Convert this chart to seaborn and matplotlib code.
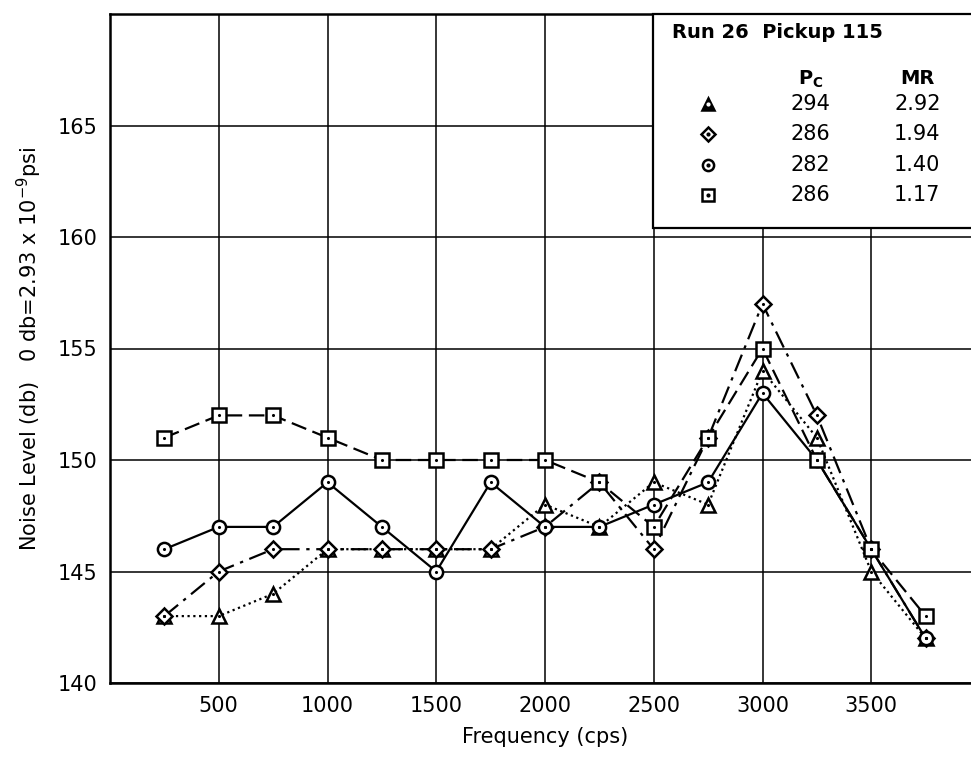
import matplotlib
matplotlib.use('Agg')
import matplotlib.pyplot as plt
import seaborn as sns
from matplotlib.patches import Rectangle

# Run 26, Pickup 115 - noise level vs frequency
freq = [250, 500, 750, 1000, 1250, 1500, 1750, 2000, 2250, 2500, 2750, 3000, 3250, 3500, 3750]
db_tri = [143, 143, 144, 146, 146, 146, 146, 148, 147, 149, 148, 154, 151, 145, 142]
db_dia = [143, 145, 146, 146, 146, 146, 146, 147, 149, 146, 151, 157, 152, 146, 142]
db_cir = [146, 147, 147, 149, 147, 145, 149, 147, 147, 148, 149, 153, 150, 146, 142]
db_sq = [151, 152, 152, 151, 150, 150, 150, 150, 149, 147, 151, 155, 150, 146, 143]

pc = ['294', '286', '282', '286']
mr = ['2.92', '1.94', '1.40', '1.17']

xticks = [500, 1000, 1500, 2000, 2500, 3000, 3500]
yticks = [140, 145, 150, 155, 160, 165]

sns.set_theme(style='white')
plt.rcParams['font.family'] = ['DejaVu Sans']
plt.rcParams['text.color'] = 'black'
plt.rcParams['axes.labelcolor'] = 'black'
plt.rcParams['xtick.color'] = 'black'
plt.rcParams['ytick.color'] = 'black'

fig = plt.figure(figsize=(9.71, 7.57), dpi=100)
ax = fig.add_axes([110/971, 1 - 683/757, 870/971, 669/757])

series = [
    (db_tri, '^', (0, (1, 1.6)), 10),
    (db_dia, 'D', (0, (8, 3, 1.5, 3)), 8.5),
    (db_cir, 'o', '-', 9.5),
    (db_sq, 's', (0, (7, 3)), 9.5),
]

for vals, mk, ls, ms in series:
    sns.lineplot(x=freq, y=vals, ax=ax, color='black', linewidth=1.6, linestyle=ls,
                 marker=mk, markersize=ms, markerfacecolor='white',
                 markeredgecolor='black', markeredgewidth=1.8, zorder=2)
    sns.scatterplot(x=freq, y=vals, ax=ax, color='black', s=5, linewidth=0, zorder=2.2)

ax.set_xlim(0, 4000)
ax.set_ylim(140, 170)
ax.set_xticks(xticks)
ax.set_yticks(yticks)
ax.tick_params(length=0, labelsize=15, pad=9)
ax.grid(True, color='black', linewidth=1.1)
ax.set_axisbelow(True)
for s in ['left', 'top', 'bottom', 'right']:
    ax.spines[s].set_color('black')
    ax.spines[s].set_linewidth(1.8)

ax.set_xlabel('Frequency (cps)', fontsize=15, labelpad=8)
ax.set_ylabel('Noise Level (db)   0 db=2.93 x 10$^{-9}$psi', fontsize=15, labelpad=10)

# legend table in the upper right corner
ax.add_patch(Rectangle((0.624, 0.68), 0.4, 0.32, transform=ax.transAxes,
                       facecolor='white', edgecolor='black', linewidth=1.6,
                       zorder=3, clip_on=False))
ax.text(0.646, 0.972, 'Run 26  Pickup 115', transform=ax.transAxes, fontsize=14,
        fontweight='bold', va='center', ha='left', zorder=4)
ax.text(0.805, 0.903, r'P$_\mathbf{C}$', transform=ax.transAxes, fontsize=14,
        fontweight='bold', va='center', ha='center', zorder=4)
ax.text(0.928, 0.903, 'MR', transform=ax.transAxes, fontsize=14,
        fontweight='bold', va='center', ha='center', zorder=4)
row_y = [0.866, 0.82, 0.775, 0.73]
for (vals, mk, ls, ms), p, m, yy in zip(series, pc, mr, row_y):
    ax.plot([0.687], [yy], transform=ax.transAxes, marker=mk, markersize=ms * 0.85,
            markerfacecolor='black' if mk == '^' else 'white', markeredgecolor='black',
            markeredgewidth=1.8, linestyle='none', zorder=4, clip_on=False)
    ax.plot([0.687], [yy], transform=ax.transAxes, marker='o', markersize=2,
            color='white' if mk == '^' else 'black', linestyle='none', zorder=5,
            clip_on=False)
    ax.text(0.805, yy, p, transform=ax.transAxes, fontsize=15, va='center',
            ha='center', zorder=4)
    ax.text(0.928, yy, m, transform=ax.transAxes, fontsize=15, va='center',
            ha='center', zorder=4)

fig.savefig('out.png', dpi=100)
